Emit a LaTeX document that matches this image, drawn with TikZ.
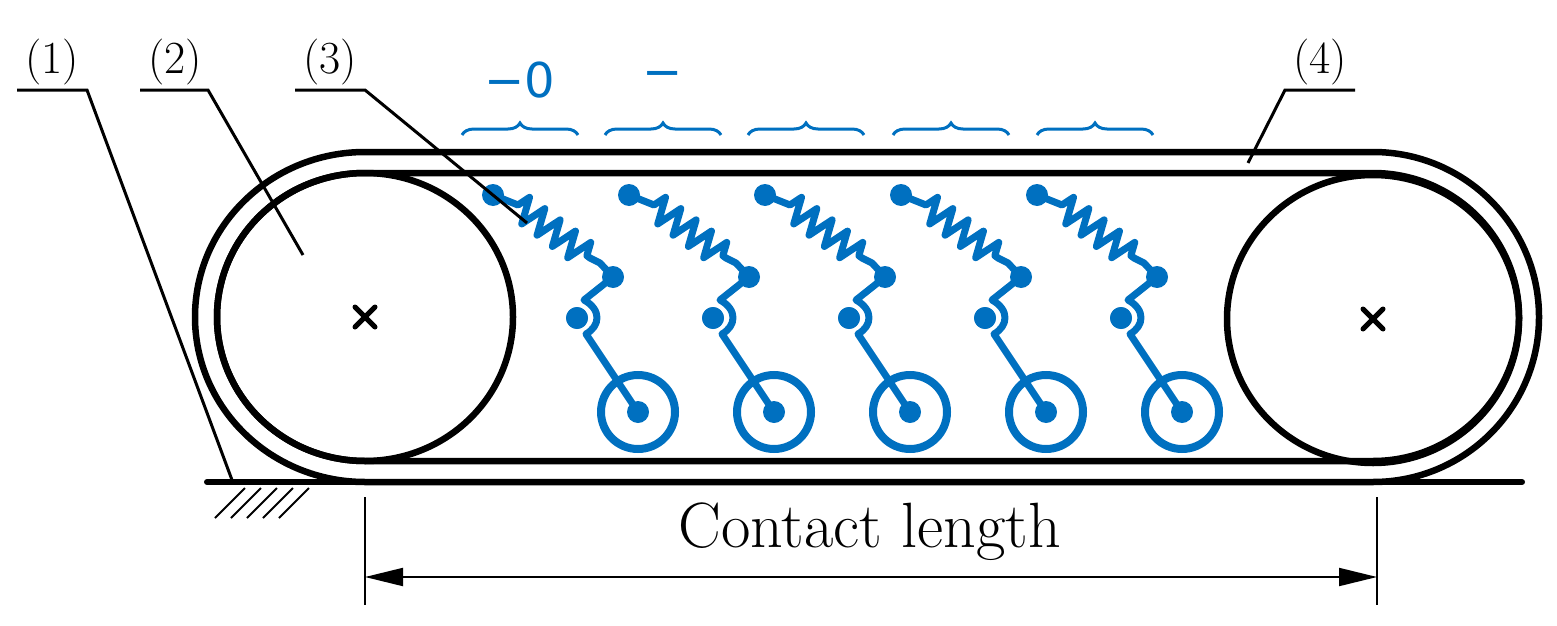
\documentclass[tikz,border=0pt]{standalone}
\usepackage{fontspec}
\newfontfamily\numfont{DejaVu Sans}
\usetikzlibrary{decorations.pathmorphing,decorations.pathreplacing,arrows.meta}
\definecolor{sblue}{RGB}{0,112,192}
\tikzset{
  track/.style={line width=6.5pt},
  leader/.style={line width=3pt},
  sus/.style={sblue,line width=7pt},
  ball/.style={circle,fill=sblue,inner sep=0pt,minimum size=22pt},
  lbl/.style={font=\fontsize{46}{50}\selectfont,inner sep=0pt},
  num/.style={text=sblue,font=\numfont\fontsize{48}{52}\selectfont,inner sep=0pt},
  brc/.style={sblue,line width=3pt,decorate,decoration={brace,amplitude=12pt}},
}
\begin{document}
\begin{tikzpicture}[x=1pt,y=-1pt]
\useasboundingbox (0,0) rectangle (1557,626);
% track
\draw[track] (365,152) arc[start angle=270,end angle=90,x radius=170,y radius=165] -- (1373,482)
  arc[start angle=90,end angle=-90,x radius=166,y radius=165] -- cycle;
\draw[track] (365,173) arc[start angle=270,end angle=90,x radius=148,y radius=144] -- (1373,461)
  arc[start angle=90,end angle=-90,x radius=146,y radius=144] -- cycle;
% wheels
\node (w1) at (365,317) {};
\node (w2) at (1373,319) {};
\draw[track] (w1.center) ellipse[x radius=148,y radius=144];
\draw[track] (w2.center) ellipse[x radius=146,y radius=144];
\foreach \c in {w1,w2}
  \draw[line width=5pt,line cap=round] ([shift={(-10,-10)}]\c.center) -- ([shift={(10,10)}]\c.center)
    ([shift={(-10,10)}]\c.center) -- ([shift={(10,-10)}]\c.center);
% ground
\coordinate (g1) at (207,482);
\coordinate (g2) at (1522,482);
\draw[line width=6pt,line cap=round] (g1) -- (g2);
\foreach \x in {0,16,...,64}
  \draw[line width=2pt] (215+\x,518) -- (245+\x,488);
% suspension units
\foreach \i/\lab in {0/-2,1/-1,2/0,3/1,4/2}{
  \begin{scope}[shift={(136*\i,0)}]
    \node[ball] (t\i) at (493,195) {};
    \node[ball] (m\i) at (613,277) {};
    \node[ball,draw=white,line width=2pt,minimum size=24pt] (p\i) at (577,318) {};
    \coordinate (hub\i) at (638,412);
    \draw[sus,line join=round] (t\i.center) -- (518,205)
      decorate[decoration={zigzag,segment length=19pt,amplitude=13pt}]{-- (590,258)} -- (600,263) -- (m\i.center);
    \draw[sus,line join=round] (m\i.center) -- (584,300) .. controls (602,310) and (600,326) .. (586,334) -- (hub\i);
    \node[ball] at (p\i) {};
    \draw[sblue,line width=8pt] (hub\i) circle[radius=37];
    \fill[sblue] (hub\i) circle[radius=11];
  \end{scope}
}
% braces and numbers
\foreach \i/\lab/\c in {0/$-$2/520,1/$-$1/663,2/0/806,3/1/951,4/2/1095}{
  \draw[brc] (\c-58,135) -- (\c+58,135);
  \node[num] (n\i) at (\c,80) {\ifnum\i<2 \textminus\fi\ifcase\i 2\or 1\or 0\or 1\or 2\fi};
}
% leaders
\node[lbl] (l1) at (52,62) {(1)};
\node[lbl] (l2) at (175,62) {(2)};
\node[lbl] (l3) at (330,62) {(3)};
\node[lbl] (l4) at (1320,62) {(4)};
\coordinate (e1) at (232,480);
\coordinate (e2) at (303,255);
\coordinate (e3) at (527,223);
\coordinate (e4) at (1248,163);
\draw[leader] (17,90) -- (87,90) -- (e1);
\draw[leader] (140,90) -- (208,90) -- (e2);
\draw[leader] (295,90) -- (365,90) -- (e3);
\draw[leader] (1355,90) -- (1285,90) -- (e4);
% dimension
\coordinate (d1) at (365,497);
\coordinate (d2) at (1377,497);
\draw[line width=2pt] (d1) -- ++(0,108);
\draw[line width=2pt] (d2) -- ++(0,108);
\draw[line width=2pt,{Triangle[length=38pt,width=18pt]}-{Triangle[length=38pt,width=18pt]}] (365,577) -- (1377,577);
\node[font=\fontsize{64}{70}\selectfont,inner sep=0pt] (cl) at (870,532) {Contact length};
\end{tikzpicture}
\end{document}
